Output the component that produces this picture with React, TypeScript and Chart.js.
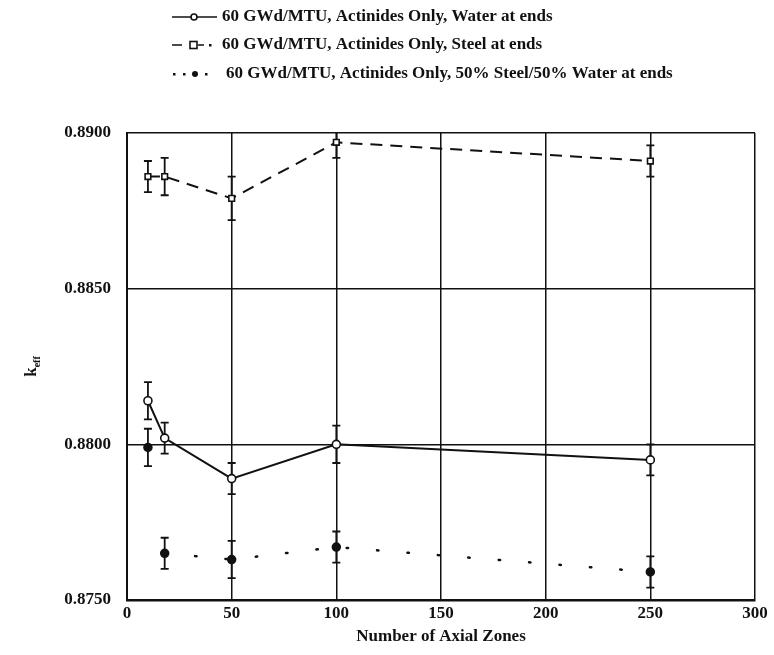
import React, { useEffect, useRef } from "react";
import { Chart, registerables } from "chart.js";

Chart.register(...registerables);

const xZones = [10, 18, 50, 100, 250];
const waterEnds = [0.8814, 0.8802, 0.8789, 0.88, 0.8795];
const waterErr = [0.0006, 0.0005, 0.0005, 0.0006, 0.0005];
const steelEnds = [0.8886, 0.8886, 0.8879, 0.8897, 0.8891];
const steelErr = [0.0005, 0.0006, 0.0007, 0.0005, 0.0005];
const mixedEnds = [0.8799, 0.8765, 0.8763, 0.8767, 0.8759];
const mixedErr = [0.0006, 0.0005, 0.0006, 0.0005, 0.0005];
const legendLabels = [
  "60 GWd/MTU, Actinides Only, Water at ends",
  "60 GWd/MTU, Actinides Only, Steel at ends",
  "60 GWd/MTU, Actinides Only, 50% Steel/50% Water at ends",
];
const xTitle = "Number of Axial Zones";

const FONT = "'Liberation Serif', 'DejaVu Serif', serif";
const INK = "#111";

const errors = [waterErr, steelErr, mixedErr];

const errorBarPlugin = {
  id: "errorBars",
  beforeDatasetsDraw(chart: any) {
    const { ctx, chartArea } = chart;
    const xs = chart.scales.x;
    const ys = chart.scales.y;
    ctx.save();
    ctx.beginPath();
    ctx.rect(chartArea.left, chartArea.top - 1, chartArea.right - chartArea.left, chartArea.bottom - chartArea.top + 2);
    ctx.clip();
    ctx.strokeStyle = INK;
    ctx.lineWidth = 1.8;
    chart.data.datasets.forEach((ds: any, di: number) => {
      const err = errors[di];
      ds.data.forEach((p: any, i: number) => {
        const px = xs.getPixelForValue(p.x);
        const top = ys.getPixelForValue(p.y + err[i]);
        const bot = ys.getPixelForValue(p.y - err[i]);
        ctx.beginPath();
        ctx.moveTo(px, top);
        ctx.lineTo(px, bot);
        ctx.moveTo(px - 4, top);
        ctx.lineTo(px + 4, top);
        ctx.moveTo(px - 4, bot);
        ctx.lineTo(px + 4, bot);
        ctx.stroke();
      });
    });
    ctx.restore();
  },
};

const decorPlugin = {
  id: "decor",
  afterDraw(chart: any) {
    const { ctx, chartArea } = chart;
    ctx.save();
    // y-axis title k_eff
    const cy = (chartArea.top + chartArea.bottom) / 2;
    ctx.translate(31, cy);
    ctx.rotate(-Math.PI / 2);
    ctx.fillStyle = INK;
    ctx.font = `bold 17px ${FONT}`;
    const wk = ctx.measureText("k").width;
    ctx.font = `bold 10px ${FONT}`;
    const we = ctx.measureText("eff").width;
    const sx = -(wk + we) / 2;
    ctx.textBaseline = "alphabetic";
    ctx.textAlign = "left";
    ctx.font = `bold 17px ${FONT}`;
    ctx.fillText("k", sx, 5);
    ctx.font = `bold 10px ${FONT}`;
    ctx.fillText("eff", sx + wk, 9);
    ctx.restore();

    // legend
    ctx.save();
    ctx.strokeStyle = INK;
    ctx.fillStyle = INK;
    ctx.lineWidth = 1.6;
    const rows = [17, 45, 74];
    // row 1: solid line + open circle
    let y = rows[0];
    ctx.beginPath();
    ctx.moveTo(172, y);
    ctx.lineTo(217, y);
    ctx.stroke();
    ctx.beginPath();
    ctx.arc(194, y, 3, 0, Math.PI * 2);
    ctx.fillStyle = "#fff";
    ctx.fill();
    ctx.stroke();
    // row 2: dashed + square
    y = rows[1];
    ctx.fillStyle = INK;
    ctx.beginPath();
    ctx.moveTo(172, y);
    ctx.lineTo(182, y);
    ctx.moveTo(198, y);
    ctx.lineTo(204, y);
    ctx.stroke();
    ctx.fillRect(209, y - 1, 2.5, 2.5);
    ctx.fillStyle = "#fff";
    ctx.fillRect(190, y - 3.5, 7, 7);
    ctx.strokeRect(190, y - 3.5, 7, 7);
    // row 3: dots + filled marker
    y = rows[2];
    ctx.fillStyle = INK;
    [174, 184, 206].forEach((x) => ctx.fillRect(x - 1, y - 1, 2.5, 2.5));
    ctx.beginPath();
    ctx.arc(195, y, 3, 0, Math.PI * 2);
    ctx.fill();
    // texts
    ctx.font = `bold 17px ${FONT}`;
    ctx.textBaseline = "middle";
    ctx.textAlign = "left";
    ctx.fillStyle = INK;
    ctx.fillText(legendLabels[0], 222, rows[0]);
    ctx.fillText(legendLabels[1], 222, rows[1]);
    ctx.fillText(legendLabels[2], 226, rows[2]);
    ctx.restore();
  },
};

export default function App() {
  const ref = useRef<HTMLCanvasElement>(null);
  useEffect(() => {
    document.body.style.margin = "0";
    const toPts = (ys: number[]) => xZones.map((x, i) => ({ x, y: ys[i] }));
    const chart = new Chart(ref.current!, {
      type: "line",
      data: {
        datasets: [
          {
            label: legendLabels[0],
            data: toPts(waterEnds),
            borderColor: INK,
            borderWidth: 2,
            pointStyle: "circle",
            pointRadius: 4,
            pointBorderWidth: 1.6,
            pointBackgroundColor: "#fff",
            pointBorderColor: INK,
            tension: 0,
          },
          {
            label: legendLabels[1],
            data: toPts(steelEnds),
            borderColor: INK,
            borderWidth: 2,
            borderDash: [12, 8],
            pointStyle: "rect",
            pointRadius: 4,
            pointBorderWidth: 1.6,
            pointBackgroundColor: "#fff",
            pointBorderColor: INK,
            tension: 0,
          },
          {
            label: legendLabels[2],
            data: toPts(mixedEnds),
            borderColor: INK,
            borderWidth: 2.5,
            borderDash: [1.5, 29],
            borderCapStyle: "round",
            pointStyle: "circle",
            pointRadius: 3.5,
            pointBackgroundColor: INK,
            pointBorderColor: INK,
            tension: 0,
            segment: {
              borderColor: (c: any) => (c.p0DataIndex === 0 ? "rgba(0,0,0,0)" : INK),
            },
          },
        ],
      } as any,
      options: {
        animation: false,
        responsive: false,
        layout: { padding: { left: 0, top: 133, right: 19, bottom: 0 } },
        plugins: { legend: { display: false }, tooltip: { enabled: false } },
        scales: {
          x: {
            type: "linear",
            min: 0,
            max: 300,
            afterFit: (s: any) => {
              s.height = 55;
            },
            ticks: { stepSize: 50, color: INK, font: { family: FONT, size: 17, weight: "bold" }, padding: 3, maxRotation: 0 },
            grid: { color: INK, lineWidth: 1.5, drawTicks: false },
            border: { color: INK, width: 2.5 },
            title: {
              display: true,
              text: xTitle,
              color: INK,
              font: { family: FONT, size: 17, weight: "bold" },
              padding: { top: 0, bottom: 8 },
            },
          },
          y: {
            type: "linear",
            min: 0.875,
            max: 0.89,
            afterFit: (s: any) => {
              s.width = 127;
            },
            ticks: {
              stepSize: 0.005,
              color: INK,
              font: { family: FONT, size: 17, weight: "bold" },
              padding: 16,
              callback: (v: any) => Number(v).toFixed(4),
            },
            grid: { color: INK, lineWidth: 1.5, drawTicks: false },
            border: { color: INK, width: 2 },
          },
        },
      } as any,
      plugins: [errorBarPlugin, decorPlugin],
    });
    return () => chart.destroy();
  }, []);
  return <canvas ref={ref} width={774} height={655} style={{ display: "block" }} />;
}
